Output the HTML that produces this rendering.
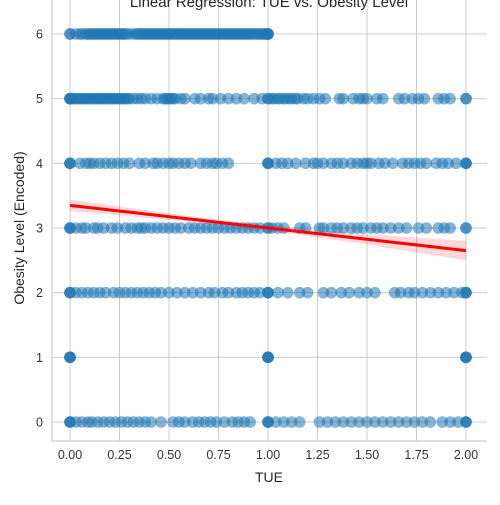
<!DOCTYPE html>
<html><head><meta charset="utf-8"><style>
body{margin:0;background:#fff;}
svg{font-family:"Liberation Sans","DejaVu Sans",sans-serif;}
</style></head><body>
<svg id="chart" width="500" height="500" xmlns="http://www.w3.org/2000/svg">
<g id="grid"></g><g id="band"></g><g id="pts"></g><g id="line"></g><g id="axes"></g>
<text x="269" y="7" text-anchor="middle" font-size="15" fill="#262626">Linear Regression: TUE vs. Obesity Level</text>
<text x="269" y="482" text-anchor="middle" font-size="14" fill="#262626">TUE</text>
<text transform="translate(24,228) rotate(-90)" text-anchor="middle" font-size="14" fill="#262626">Obesity Level (Encoded)</text>
</svg>
<script>
const xTicks=[0,0.25,0.5,0.75,1.0,1.25,1.5,1.75,2.0];
const xTickLabels=["0.00","0.25","0.50","0.75","1.00","1.25","1.50","1.75","2.00"];
const yTicks=[0,1,2,3,4,5,6];
const level6=[0,0,0.03,0.05,0.06,0.08,0.09,0.1,0.11,0.12,0.13,0.14,0.15,0.16,0.17,0.18,0.19,0.2,0.21,0.22,0.23,0.24,0.25,0.26,0.27,0.28,0.29,0.31,0.33,0.34,0.35,0.36,0.37,0.38,0.39,0.4,0.41,0.42,0.43,0.44,0.45,0.46,0.47,0.48,0.49,0.5,0.51,0.52,0.53,0.54,0.55,0.56,0.57,0.58,0.59,0.6,0.61,0.62,0.63,0.64,0.65,0.66,0.67,0.68,0.69,0.7,0.71,0.72,0.73,0.74,0.75,0.76,0.77,0.78,0.79,0.8,0.81,0.82,0.83,0.84,0.85,0.86,0.87,0.88,0.89,0.9,0.91,0.92,0.93,0.94,0.95,0.96,0.97,0.98,0.99,1,1,1,1];
const level5=[0,0,0,0,0.01,0.02,0.03,0.04,0.05,0.06,0.07,0.08,0.09,0.1,0.11,0.12,0.13,0.14,0.15,0.16,0.17,0.18,0.19,0.2,0.21,0.22,0.23,0.24,0.25,0.26,0.27,0.28,0.29,0.3,0.32,0.34,0.36,0.38,0.41,0.44,0.47,0.48,0.49,0.5,0.51,0.52,0.53,0.56,0.58,0.63,0.66,0.7,0.72,0.76,0.8,0.84,0.88,0.93,0.97,1.0,1.0,1.02,1.03,1.05,1.06,1.08,1.09,1.11,1.12,1.14,1.15,1.18,1.2,1.23,1.26,1.29,1.36,1.38,1.43,1.46,1.48,1.5,1.55,1.58,1.66,1.69,1.73,1.76,1.79,1.86,1.89,1.92,2.0,2.0];
const level4=[0,0,0,0.05,0.08,0.1,0.12,0.15,0.18,0.21,0.24,0.27,0.3,0.35,0.38,0.42,0.44,0.47,0.5,0.52,0.55,0.58,0.61,0.66,0.69,0.72,0.74,0.77,0.8,1.0,1.0,1.0,1.04,1.07,1.1,1.14,1.19,1.23,1.25,1.28,1.32,1.35,1.38,1.42,1.45,1.48,1.5,1.52,1.56,1.59,1.63,1.68,1.71,1.74,1.77,1.8,1.85,1.88,1.91,1.95,2.0,2.0,2.0];
const level3=[0,0,0,0.03,0.06,0.08,0.12,0.14,0.17,0.21,0.24,0.28,0.31,0.34,0.36,0.38,0.41,0.44,0.47,0.5,0.53,0.56,0.6,0.63,0.66,0.69,0.72,0.75,0.78,0.81,0.84,0.87,0.9,0.93,0.96,1.0,1.0,1.02,1.05,1.08,1.16,1.19,1.26,1.28,1.32,1.35,1.38,1.42,1.45,1.48,1.52,1.55,1.58,1.62,1.66,1.7,1.76,1.8,1.86,1.89,1.92,2.0,2.0];
const level2=[0,0,0,0.03,0.06,0.09,0.12,0.15,0.18,0.22,0.25,0.28,0.31,0.34,0.37,0.4,0.43,0.46,0.5,0.54,0.58,0.62,0.66,0.7,0.73,0.77,0.8,0.84,0.87,0.9,0.93,0.96,1.0,1.0,1.0,1.05,1.1,1.16,1.2,1.28,1.32,1.37,1.41,1.46,1.5,1.54,1.64,1.67,1.71,1.74,1.78,1.82,1.86,1.9,1.94,1.98,2.0,2.0,2.0];
const level1=[0,0,0,0,1,1,1,1,2,2,2,2];
const level0=[0,0,0,0.03,0.06,0.09,0.11,0.14,0.17,0.2,0.23,0.26,0.29,0.32,0.35,0.38,0.41,0.46,0.52,0.55,0.58,0.62,0.65,0.68,0.71,0.74,0.78,0.82,0.85,0.88,0.91,1.0,1.0,1.0,1.04,1.08,1.12,1.16,1.26,1.3,1.34,1.38,1.42,1.46,1.5,1.54,1.58,1.62,1.66,1.7,1.74,1.78,1.82,1.88,1.92,1.96,2.0,2.0,2.0];
const levels=[level0,level1,level2,level3,level4,level5,level6];
const fitX=[0,2];
const fitY=[3.35,2.65];
const ciX=[0,0.5,1,1.5,2];
const ciHalf=[0.09,0.05,0.04,0.08,0.15];
const X0=52,X1=487,Y0=441,Y1=0;
const sx=v=>70+v*198;
const sy=v=>422-v*64.67;
const NS="http://www.w3.org/2000/svg";
function mk(tag,attrs,parent){const e=document.createElementNS(NS,tag);for(const k in attrs)e.setAttribute(k,attrs[k]);parent.appendChild(e);return e;}
const grid=document.getElementById('grid'),axes=document.getElementById('axes');
xTicks.forEach((t,i)=>{
 const l=mk('line',{x1:sx(t),x2:sx(t),y1:Y1,y2:Y0,stroke:'#cccccc','stroke-width':1},grid);
 
 
 const tx=mk('text',{x:sx(t),y:459,'text-anchor':'middle','font-size':12.5,fill:'#333'},axes);
 tx.textContent=xTickLabels[i];
 
 
});
yTicks.forEach(t=>{
 const l=mk('line',{x1:X0,x2:X1,y1:sy(t),y2:sy(t),stroke:'#cccccc','stroke-width':1},grid);
 
 
 const tx=mk('text',{x:43,y:sy(t)+4.5,'text-anchor':'end','font-size':12.5,fill:'#333'},axes);
 tx.textContent=String(t);
 
 
});
const s1=mk('line',{x1:X0,x2:X0,y1:Y1,y2:Y0,stroke:'#cccccc','stroke-width':1.2},axes);


const s2=mk('line',{x1:X0,x2:X1,y1:Y0,y2:Y0,stroke:'#cccccc','stroke-width':1.2},axes);


function fitAt(x){return fitY[0]+(fitY[1]-fitY[0])*(x-fitX[0])/(fitX[1]-fitX[0]);}
const upper=ciX.map((x,i)=>sx(x)+','+sy(fitAt(x)+ciHalf[i]));
const lower=ciX.map((x,i)=>sx(x)+','+sy(fitAt(x)-ciHalf[i])).reverse();
const band=mk('polygon',{points:upper.concat(lower).join(' '),fill:'#ff0000','fill-opacity':0.15},document.getElementById('band'));


const pts=document.getElementById('pts');
levels.forEach((arr,lv)=>arr.forEach(x=>{
 const c=mk('circle',{cx:sx(x),cy:sy(lv),r:5.8,fill:'#1f77b4','fill-opacity':0.55},pts);
 
 
}));
const ln=mk('line',{x1:sx(fitX[0]),y1:sy(fitY[0]),x2:sx(fitX[1]),y2:sy(fitY[1]),stroke:'#ff0000','stroke-width':3},document.getElementById('line'));


</script>
</body></html>
